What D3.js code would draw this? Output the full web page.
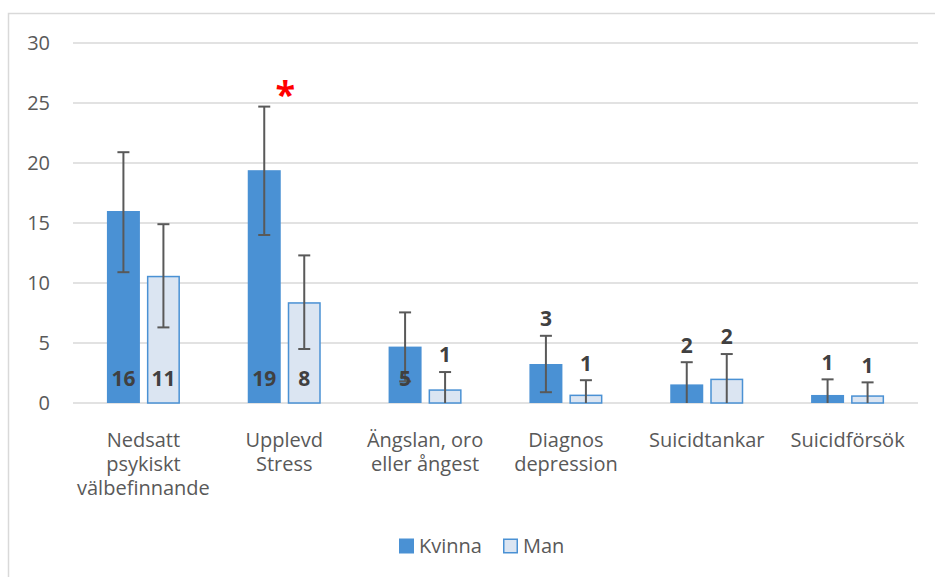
<!DOCTYPE html>
<html>
<head>
<meta charset="utf-8">
<script src="https://cdn.jsdelivr.net/npm/d3@7"></script>
<style>
  body { margin: 0; background: #fff; }
  text { font-family: "Open Sans", "Noto Sans", sans-serif; }
</style>
</head>
<body>
<script>
// data
const categories = [
  ['Nedsatt', 'psykiskt', 'välbefinnande'],
  ['Upplevd', 'Stress'],
  ['Ängslan, oro', 'eller ångest'],
  ['Diagnos', 'depression'],
  ['Suicidtankar'],
  ['Suicidförsök']
];
const seriesNames = ['Kvinna', 'Man'];
const kvinna = [16.0, 19.4, 4.7, 3.25, 1.55, 0.67];
const man = [10.6, 8.4, 1.14, 0.7, 2.03, 0.64];
const kvinnaLow = [10.9, 14.0, 1.8, 0.9, -0.3, -0.6];
const kvinnaHigh = [20.9, 24.7, 7.55, 5.6, 3.4, 1.97];
const manLow = [6.3, 4.5, -0.3, -0.5, -0.1, -0.4];
const manHigh = [14.9, 12.3, 2.58, 1.9, 4.08, 1.72];
const kvinnaLabels = ['16', '19', '5', '3', '2', '1'];
const manLabels = ['11', '8', '1', '1', '2', '1'];
const labelInside = [[true, true], [true, true], [true, false], [false, false], [false, false], [false, false]];
const yTicks = [0, 5, 10, 15, 20, 25, 30];
const significant = [false, true, false, false, false, false];

const width = 935, height = 577;
const margin = { left: 73, right: 17, top: 43, bottom: 174 };
const colors = ['#4a91d4', '#dbe5f2'];

const svg = d3.select('body').append('svg')
  .attr('width', width)
  .attr('height', height);

// chart frame
svg.append('path')
  .attr('d', `M8.5,${height} V13.5 H${width}`)
  .attr('fill', 'none')
  .attr('stroke', '#d9d9d9')
  .attr('stroke-width', 1.5);

const x = d3.scaleBand()
  .domain(d3.range(categories.length))
  .range([margin.left, width - margin.right]);

const y = d3.scaleLinear()
  .domain([0, 30])
  .range([height - margin.bottom, margin.top]);

const barW = 33, gap = 7;

// gridlines
svg.append('g').selectAll('line')
  .data(yTicks)
  .join('line')
  .attr('x1', margin.left)
  .attr('x2', width - margin.right)
  .attr('y1', d => y(d))
  .attr('y2', d => y(d))
  .attr('stroke', '#d9d9d9')
  .attr('stroke-width', 1.5);

// y tick labels
svg.append('g').selectAll('text')
  .data(yTicks)
  .join('text')
  .attr('x', 50)
  .attr('y', d => y(d))
  .attr('dy', '0.35em')
  .attr('text-anchor', 'end')
  .attr('font-size', 20)
  .attr('fill', '#595959')
  .text(d => d);

const series = [
  { vals: kvinna, lo: kvinnaLow, hi: kvinnaHigh, labels: kvinnaLabels },
  { vals: man, lo: manLow, hi: manHigh, labels: manLabels }
];

series.forEach((s, si) => {
  const cx = i => x(i) + x.bandwidth() / 2 + (si === 0 ? -(barW + gap) / 2 : (barW + gap) / 2);
  const g = svg.append('g');

  g.selectAll('rect')
    .data(s.vals)
    .join('rect')
    .attr('x', (d, i) => cx(i) - barW / 2 + (si === 1 ? 0.75 : 0))
    .attr('width', barW - (si === 1 ? 1.5 : 0))
    .attr('y', d => y(d) + (si === 1 ? 0.75 : 0))
    .attr('height', d => y(0) - y(d) - (si === 1 ? 0.75 : 0))
    .attr('fill', colors[si])
    .attr('stroke', si === 1 ? '#4a91d4' : 'none')
    .attr('stroke-width', 1.5);

  // error bars
  s.vals.forEach((v, i) => {
    const lo = Math.max(s.lo[i], 0);
    const hi = s.hi[i];
    g.append('line')
      .attr('x1', cx(i)).attr('x2', cx(i))
      .attr('y1', y(lo)).attr('y2', y(hi))
      .attr('stroke', '#595959').attr('stroke-width', 2);
    g.append('line')
      .attr('x1', cx(i) - 6).attr('x2', cx(i) + 6)
      .attr('y1', y(hi)).attr('y2', y(hi))
      .attr('stroke', '#595959').attr('stroke-width', 2);
    if (s.lo[i] > 0) {
      g.append('line')
        .attr('x1', cx(i) - 6).attr('x2', cx(i) + 6)
        .attr('y1', y(lo)).attr('y2', y(lo))
        .attr('stroke', '#595959').attr('stroke-width', 2);
    }
  });

  // value labels
  g.selectAll('text.val')
    .data(s.labels)
    .join('text')
    .attr('class', 'val')
    .attr('x', (d, i) => cx(i))
    .attr('y', (d, i) => labelInside[i][si] ? y(0) - 24 : y(s.hi[i]) - 17)
    .attr('dy', '0.35em')
    .attr('text-anchor', 'middle')
    .attr('font-size', 21)
    .attr('font-weight', 'bold')
    .attr('fill', '#404040')
    .text(d => d);
});

// significance marker
svg.append('g').selectAll('text')
  .data(d3.range(categories.length).filter(i => significant[i]))
  .join('text')
  .attr('x', i => x(i) + x.bandwidth() / 2 + 1)
  .attr('y', 107)
  .attr('text-anchor', 'middle')
  .attr('font-size', 36)
  .attr('font-weight', 'bold')
  .attr('fill', '#ff0000')
  .text('*');

// category labels
const cat = svg.append('g').selectAll('text')
  .data(categories)
  .join('text')
  .attr('x', (d, i) => x(i) + x.bandwidth() / 2)
  .attr('y', 440)
  .attr('text-anchor', 'middle')
  .attr('font-size', 20)
  .attr('fill', '#595959');
cat.selectAll('tspan')
  .data(d => d)
  .join('tspan')
  .attr('x', function () { return d3.select(this.parentNode).attr('x'); })
  .attr('dy', (d, j) => j === 0 ? '0.35em' : 24)
  .text(d => d);

// legend
const legend = svg.append('g').attr('transform', 'translate(399,546)');
const legX = [0, 104];
seriesNames.forEach((n, i) => {
  legend.append('rect')
    .attr('x', legX[i] + (i === 1 ? 0.75 : 0))
    .attr('y', -7.5 + (i === 1 ? 0.75 : 0))
    .attr('width', 15 - (i === 1 ? 1.5 : 0))
    .attr('height', 15 - (i === 1 ? 1.5 : 0))
    .attr('fill', colors[i])
    .attr('stroke', i === 1 ? '#4a91d4' : 'none')
    .attr('stroke-width', 1.5);
  legend.append('text')
    .attr('x', legX[i] + 20)
    .attr('y', 0)
    .attr('dy', '0.35em')
    .attr('font-size', 20)
    .attr('fill', '#595959')
    .text(n);
});
</script>
</body>
</html>
